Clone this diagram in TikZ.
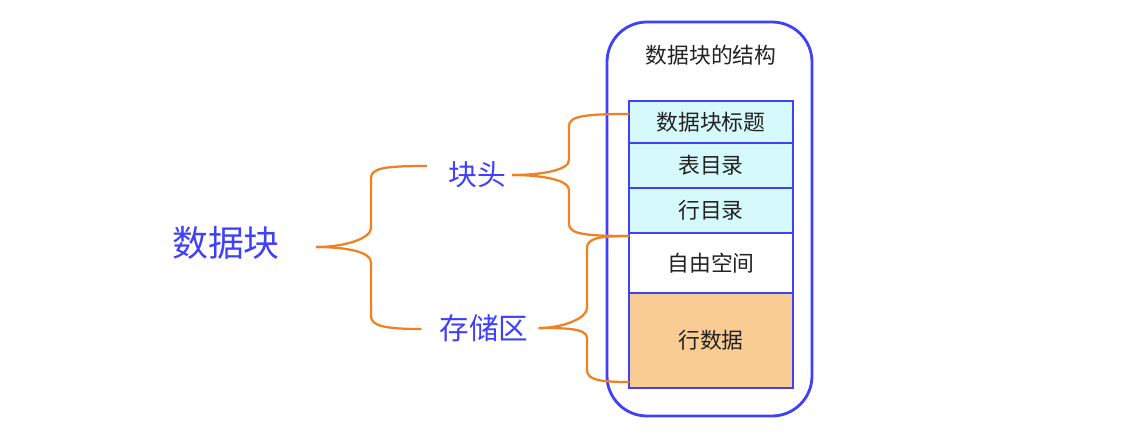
\documentclass[tikz,border=0pt]{standalone}
\usepackage{fontspec}
\newfontfamily\cjk{Noto Sans CJK SC}
\usetikzlibrary{positioning}
\definecolor{lblue}{RGB}{64,64,250}
\definecolor{brorange}{RGB}{240,128,32}
\definecolor{lcyan}{RGB}{214,250,252}
\definecolor{lorange}{RGB}{249,204,148}
\definecolor{dtext}{RGB}{34,34,34}
\tikzset{
  lbl/.style={font=\cjk, text=lblue, inner sep=0pt},
  row/.style={draw=lblue, line width=2pt, outer sep=0pt, minimum width=164*0.025cm, inner sep=0pt, font=\cjk\fontsize{15.5}{18}\selectfont, text=dtext},
  brace/.style={draw=brorange, line width=1.6pt, line join=round}
}
\begin{document}
\begin{tikzpicture}[x=0.025cm, y=-0.025cm]
  \useasboundingbox (0,0) rectangle (1139,434);
  % outer frame of the block structure
  \draw[lblue, line width=2pt, rounded corners=40*0.025cm] (607,22) rectangle (812,416);
  \node[font=\cjk\fontsize{15.5}{18}\selectfont, text=dtext] (title) at (711,55) {数据块的结构};
  % rows of the block, top to bottom
  \node[row, fill=lcyan, minimum height=42*0.025cm] (hdr) at (711,122) {数据块标题};
  \node[row, fill=lcyan, minimum height=45*0.025cm, below=0pt of hdr] (tbl) {表目录};
  \node[row, fill=lcyan, minimum height=45*0.025cm, below=0pt of tbl] (rowdir) {行目录};
  \node[row, fill=white, minimum height=60*0.025cm, below=0pt of rowdir] (free) {自由空间};
  \node[row, fill=lorange, minimum height=95*0.025cm, below=0pt of free] (rowdata) {行数据};
  % labels on the left
  \node[lbl, font=\cjk\fontsize{25.5}{30}\selectfont] (blk) at (226,243) {数据块};
  \node[lbl, font=\cjk\fontsize{20.5}{24}\selectfont] (head) at (477,175) {块头};
  \node[lbl, font=\cjk\fontsize{21}{25}\selectfont] (store) at (484,328) {存储区};
  % brace: block -> header / storage
  \coordinate (b1t) at ([xshift=-21*0.025cm]head.west |- 0,166);
  \coordinate (b1b) at ([xshift=-18*0.025cm]store.west |- 0,329);
  \draw[brace] (blk.east) ++(36,4) coordinate (b1c)
    .. controls +(30,0) and (371,252) .. (371,262) -- (371,316)
    .. controls (371,326) and (385,329) .. (b1b);
  \draw[brace] (b1c) .. controls +(30,0) and (371,238) .. (371,228) -- (371,178)
    .. controls (371,168) and (385,166) .. (b1t);
  % brace: header -> first three rows
  \coordinate (b2t) at ([yshift=8*0.025cm]hdr.west);
  \coordinate (b2b) at ([yshift=-3*0.025cm]rowdir.south west);
  \draw[brace] ([xshift=6*0.025cm]head.east) coordinate (b2c)
    .. controls +(30,0) and (569,170) .. (569,160) -- (569,126)
    .. controls (569,116) and (585,114) .. (b2t);
  \draw[brace] (b2c) .. controls +(30,0) and (569,180) .. (569,190) -- (569,224)
    .. controls (569,234) and (585,236) .. (b2b);
  % brace: storage -> free space and row data
  \coordinate (b3b) at ([yshift=6*0.025cm]rowdata.south west);
  \draw[brace] ([xshift=10*0.025cm]store.east) coordinate (b3c)
    .. controls +(25,0) and (587,318) .. (587,308) -- (587,248)
    .. controls (587,238) and (600,236) .. (b2b);
  \draw[brace] (b3c) .. controls +(25,0) and (587,328) .. (587,338) -- (587,370)
    .. controls (587,380) and (600,382) .. (b3b);
\end{tikzpicture}
\end{document}
